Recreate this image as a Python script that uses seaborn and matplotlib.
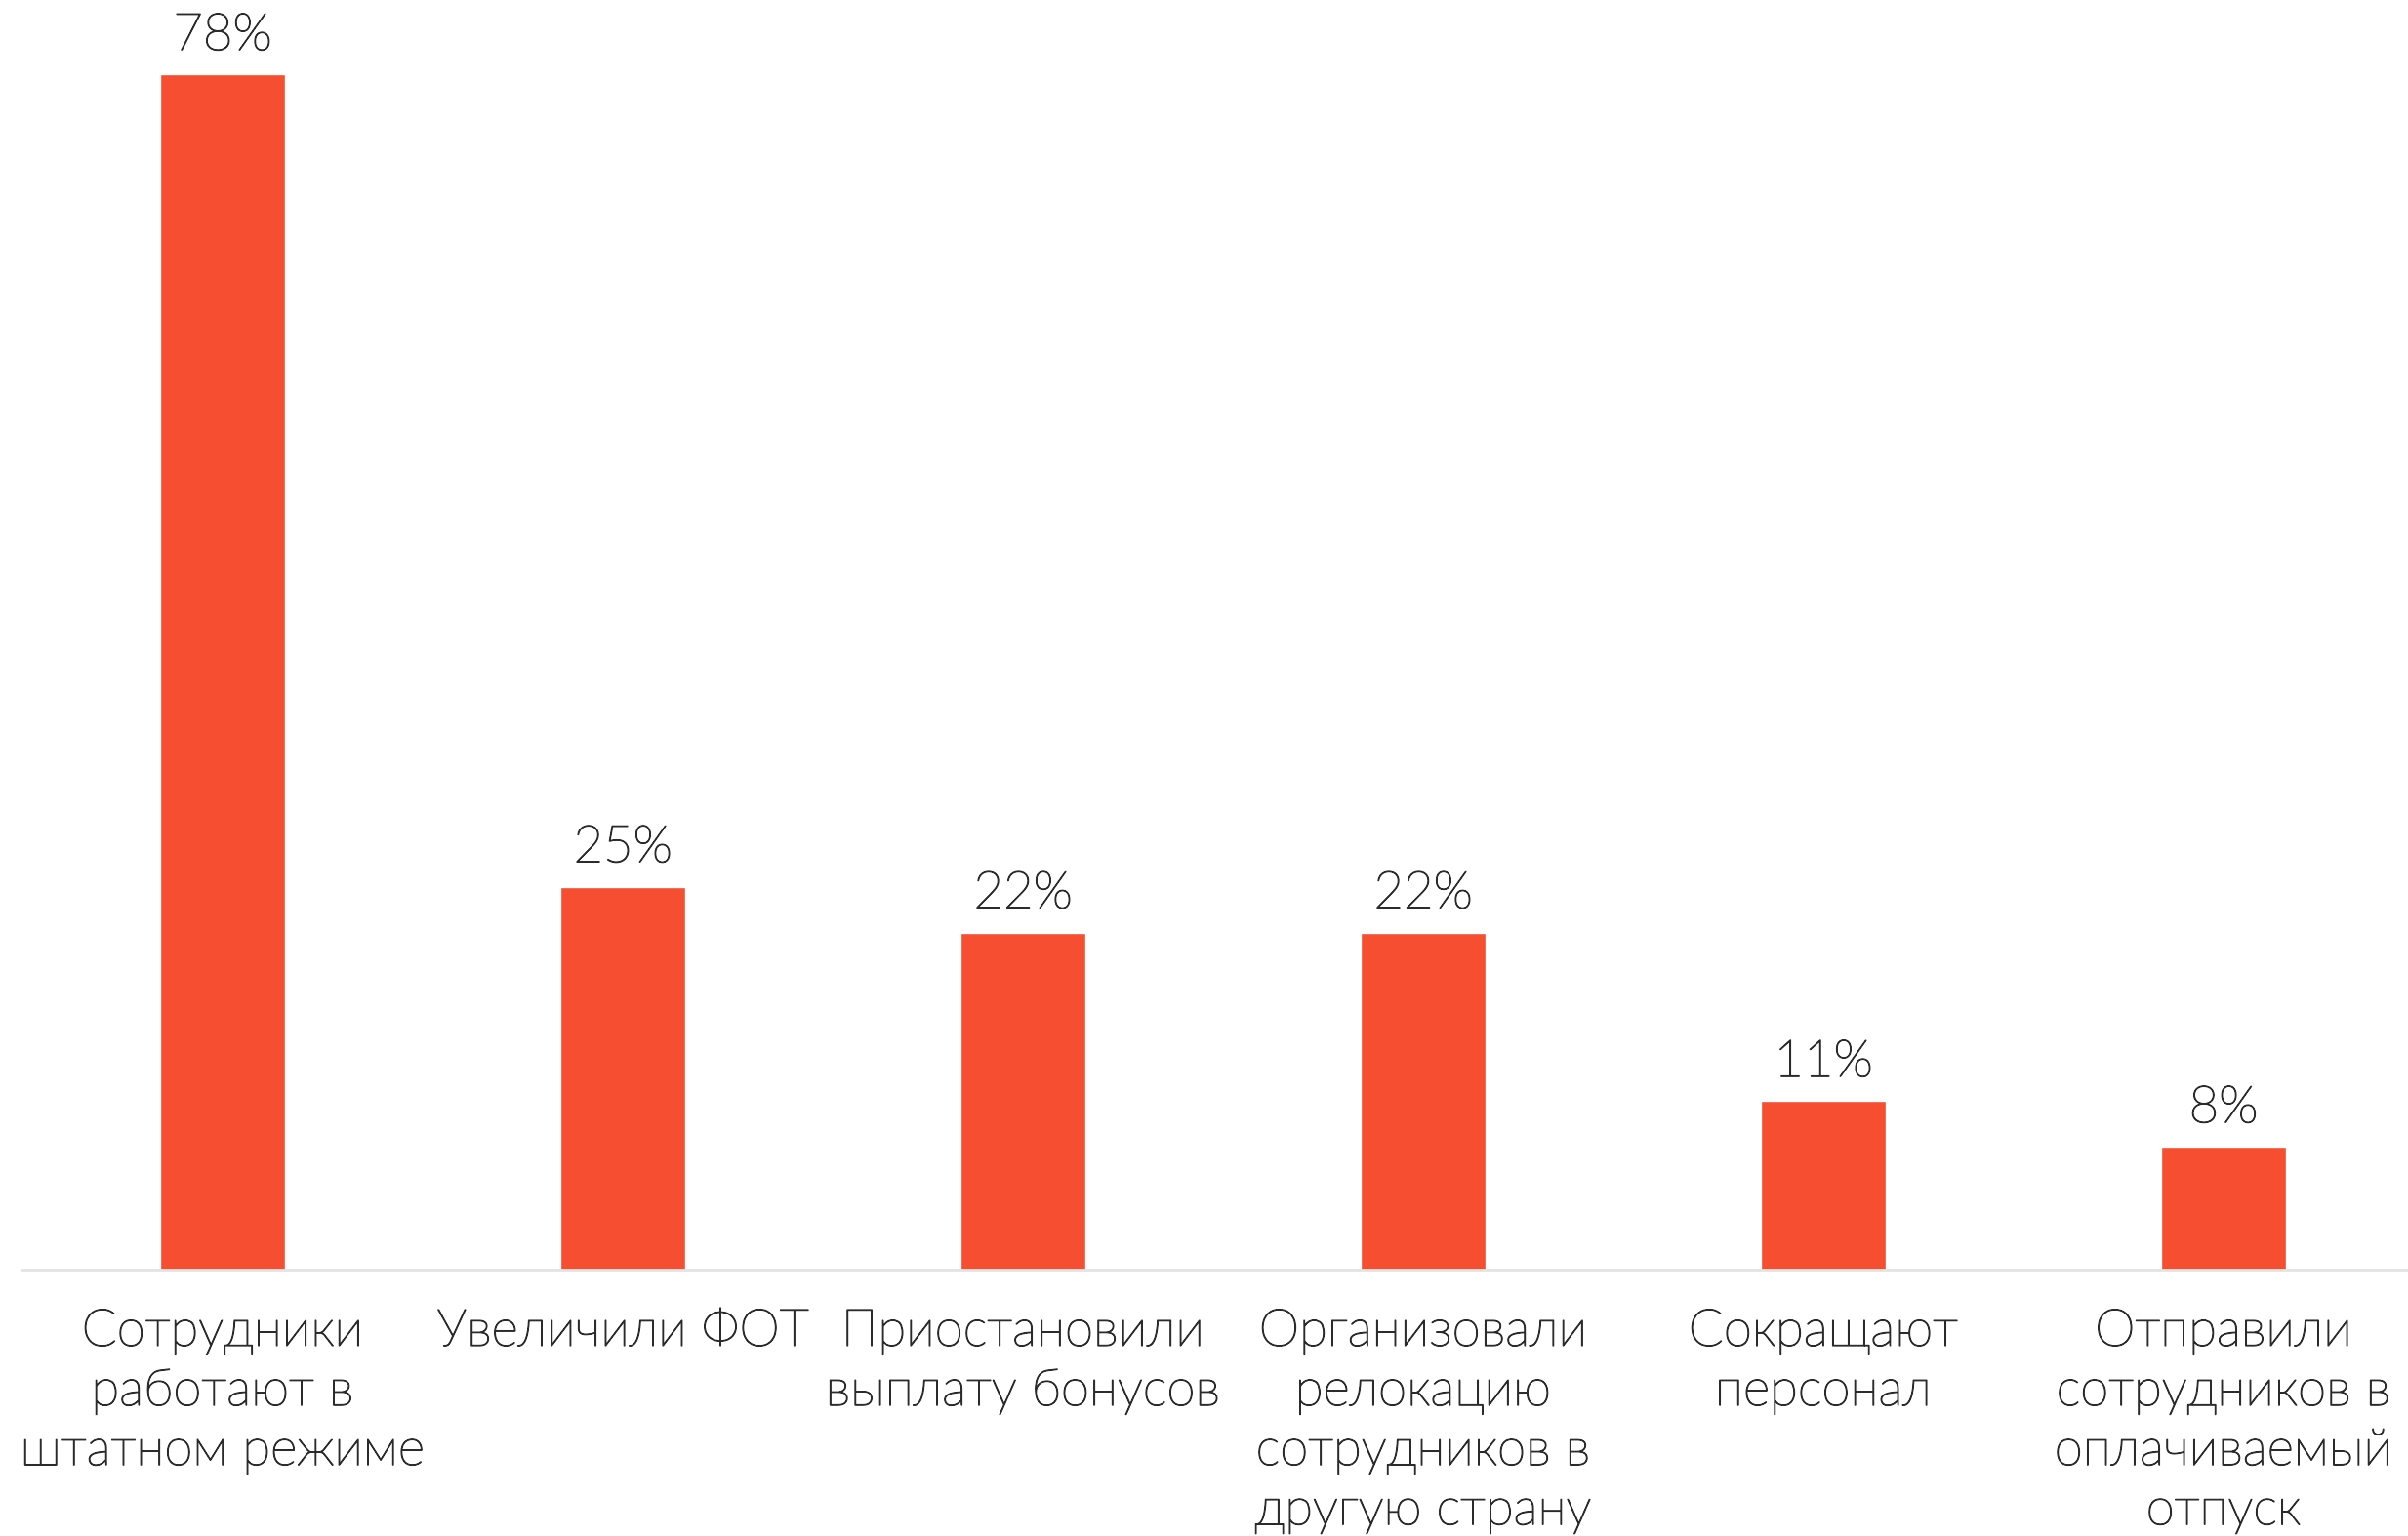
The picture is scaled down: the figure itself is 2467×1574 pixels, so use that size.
import pandas as pd
import matplotlib
matplotlib.use("Agg")
import matplotlib.pyplot as plt
import matplotlib.patheffects as pe
import seaborn as sns

# Data
categories = [
    "Сотрудники\nработают в\nштатном режиме",
    "Увеличили ФОТ",
    "Приостановили\nвыплату бонусов",
    "Организовали\nрелокацию\nсотрудников в\nдругую страну",
    "Сокращают\nперсонал",
    "Отправили\nсотрудников в\nоплачиваемый\nотпуск",
]
values = [78, 25, 22, 22, 11, 8]

df = pd.DataFrame({"category": categories, "value": values})

sns.set_style("white")
plt.rcParams["font.family"] = ["Lato", "DejaVu Sans"]

bar_color = "#F54E30"
text_color = "#2B2B2B"
thicken = [pe.withStroke(linewidth=0.9, foreground=text_color)]

fig = plt.figure(figsize=(24.67, 15.74), dpi=100)
ax = fig.add_axes([23 / 2467, 0.1734, 2460 / 2467, 0.798])

sns.barplot(data=df, x="category", y="value", color=bar_color,
            width=0.31, saturation=1, ax=ax)

ax.set_ylim(0, 80)
ax.set_xlim(-0.5, 5.5)

# value labels
texts = ax.bar_label(ax.containers[0], labels=[f"{v}%" for v in values],
                     padding=11, fontsize=38, color=text_color,
                     fontweight="light", clip_on=False)
for t in texts:
    t.set_path_effects(thicken)

ax.set_xlabel("")
ax.set_ylabel("")
ax.set_yticks([])
ax.tick_params(axis="x", length=0, pad=28)
for lbl in ax.get_xticklabels():
    lbl.set_fontsize(38)
    lbl.set_color(text_color)
    lbl.set_fontweight("light")
    lbl.set_linespacing(1.31)
    lbl.set_path_effects(thicken)

for side in ["top", "left", "right"]:
    ax.spines[side].set_visible(False)
ax.spines["bottom"].set_color("#E3E3E3")
ax.spines["bottom"].set_linewidth(2)

fig.savefig("out.png", dpi=100, facecolor="white")
